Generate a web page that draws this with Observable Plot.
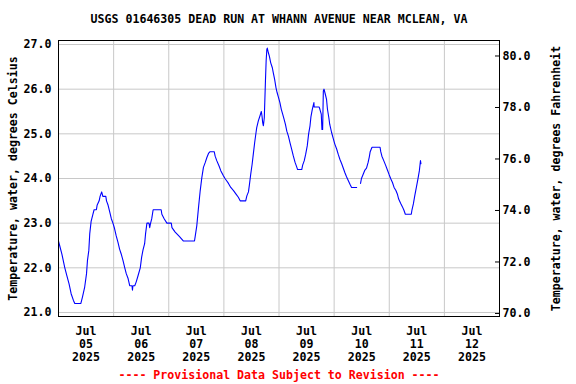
<!DOCTYPE html>
<html>
<head>
<meta charset="utf-8">
<script src="https://cdn.jsdelivr.net/npm/d3@7"></script>
<script src="https://cdn.jsdelivr.net/npm/@observablehq/plot@0.6"></script>
<style>
  html, body { margin: 0; padding: 0; background: #fff; }
</style>
</head>
<body>
<div id="chart"></div>
<script>
const title = "USGS 01646305 DEAD RUN AT WHANN AVENUE NEAR MCLEAN, VA";
const caption = "---- Provisional Data Subject to Revision ----";
const leftLabel = "Temperature, water, degrees Celsius";
const rightLabel = "Temperature, water, degrees Fahrenheit";

// hours since 2025-07-05 00:00
const hours = [
  0.0, 0.5, 1.5, 2.75, 3.6, 4.6, 5.5, 6.5, 7.1, 9.7, 10.4, 11.4, 12.2, 12.6, 13.2, 13.6, 14.2, 15.0, 15.5, 16.5,
  16.8, 17.7, 18.1, 18.8, 19.3, 20.6, 20.9, 21.6, 22.3, 23.0, 23.7, 24.4, 25.1, 25.9, 26.6, 27.3, 28.1, 28.8, 29.5, 30.3,
  31.0, 32.0, 32.2, 32.4, 33.2, 33.8, 34.5, 35.6, 36.2, 36.8, 37.5, 37.9, 38.5, 39.4, 39.7, 40.1, 40.6, 41.2,
  44.7, 45.0, 46.0, 47.2, 49.1, 49.4, 50.8, 52.7, 54.4, 59.2, 59.5, 60.2, 60.9, 61.7, 62.4, 63.1, 63.9, 64.6, 65.3, 66.0,
  67.8, 68.2, 68.9, 69.9, 70.7, 71.8, 72.5, 73.2, 74.0, 75.0, 76.2, 77.3, 78.3, 79.1, 81.5, 82.0, 82.7, 83.1, 83.7, 84.3,
  84.8, 85.4, 86.0, 86.3, 87.0, 87.7, 88.3, 88.6, 88.9, 89.2, 89.6, 90.1, 90.4, 90.7, 90.9, 91.4, 91.8, 92.4, 93.1, 93.5,
  94.1, 94.7, 95.2, 95.8, 96.4, 97.0, 97.6, 98.2, 98.8, 99.4, 100.1, 100.8, 101.5, 102.2, 103.0, 103.7, 104.1, 105.9, 106.3, 107.0,
  107.6, 108.3, 108.9, 109.5, 109.9, 110.5, 111.2, 111.3, 113.5, 113.8, 114.4, 114.7, 115.0, 115.3, 115.6, 116.0, 116.7, 117.1, 117.7, 118.1,
  118.9, 119.6, 120.3, 121.1, 121.8, 122.5, 123.3, 124.0, 124.7, 125.4, 126.2, 126.9, 127.6, 129.8, 130.6, 131.5, 131.9, 132.7, 133.4, 134.1,
  134.8, 135.3, 135.7, 136.5, 140.0, 140.3, 140.8, 141.6, 142.4, 143.2, 144.0, 144.7, 145.4, 146.1, 146.9, 147.6, 148.1, 149.0, 149.7, 150.4,
  151.0, 153.6, 153.9, 154.5, 155.1, 155.8, 156.5, 157.1, 157.6, 157.8
];
const temps = [
  22.6, 22.5, 22.3, 22.0, 21.83, 21.64, 21.42, 21.27, 21.2, 21.2, 21.34, 21.57, 21.87, 22.16, 22.39, 22.76, 23.04, 23.2, 23.3, 23.3,
  23.4, 23.5, 23.6, 23.7, 23.6, 23.6, 23.5, 23.4, 23.25, 23.1, 23.0, 22.88, 22.72, 22.57, 22.42, 22.31, 22.16, 22.01, 21.87, 21.76,
  21.6, 21.6, 21.5, 21.6, 21.6, 21.68, 21.8, 22.0, 22.24, 22.4, 22.54, 22.76, 23.0, 23.0, 22.9, 23.0, 23.1, 23.3,
  23.3, 23.2, 23.1, 23.0, 23.0, 22.9, 22.8, 22.7, 22.6, 22.6, 22.7, 22.94, 23.32, 23.73, 24.02, 24.25, 24.36, 24.47, 24.56, 24.6,
  24.6, 24.5, 24.4, 24.28, 24.17, 24.06, 24.0, 23.95, 23.89, 23.8, 23.73, 23.65, 23.58, 23.5, 23.5, 23.61, 23.7, 23.85, 24.1, 24.32,
  24.54, 24.8, 25.03, 25.14, 25.29, 25.4, 25.5, 25.4, 25.25, 25.18, 25.36, 26.18, 26.63, 26.89, 26.92, 26.81, 26.74, 26.59, 26.48, 26.37,
  26.22, 26.03, 25.92, 25.81, 25.7, 25.55, 25.44, 25.33, 25.21, 25.06, 24.95, 24.8, 24.66, 24.51, 24.36, 24.26, 24.2, 24.2, 24.3, 24.4,
  24.54, 24.73, 25.0, 25.18, 25.38, 25.55, 25.7, 25.6, 25.6, 25.55, 25.44, 25.1, 25.1, 25.96, 26.0, 25.92, 25.77, 25.55, 25.36, 25.21,
  25.03, 24.9, 24.77, 24.66, 24.54, 24.43, 24.33, 24.23, 24.13, 24.04, 23.95, 23.87, 23.8, 23.8, null, 23.89, 24.0, 24.1, 24.19, 24.23,
  24.36, 24.48, 24.6, 24.7, 24.7, 24.6, 24.5, 24.4, 24.3, 24.19, 24.08, 23.99, 23.91, 23.8, 23.73, 23.64, 23.54, 23.44, 23.37, 23.29,
  23.2, 23.2, 23.3, 23.43, 23.61, 23.8, 23.99, 24.17, 24.4, 24.33
];

const celsiusTicks = [21, 22, 23, 24, 25, 26, 27];
const fahrenheitTicks = [70, 72, 74, 76, 78, 80];
const dayLabels = ["05", "06", "07", "08", "09", "10", "11", "12"];

const t0 = Date.UTC(2025, 6, 5);
const HOUR = 3600e3, DAY = 864e5;
const data = hours.map((h, i) => ({date: new Date(t0 + h * HOUR), temp: temps[i]}));
const midnights = d3.range(0, 9).map(d => new Date(t0 + d * DAY));
const noons = dayLabels.map((_, i) => new Date(t0 + i * DAY + 12 * HOUR));

// right-axis calibration (°F tick positions expressed on the °C scale)
const f2c = d3.scaleLinear().domain([70, 80]).range([20.978, 26.743]);
const fPos = fahrenheitTicks.map(f2c);

const W = 576, H = 384, mL = 58, mR = 77, mT = 40, mB = 68;
const font = "DejaVu Sans Mono";

const chart = Plot.plot({
  width: W, height: H,
  marginTop: mT, marginBottom: mB, marginLeft: mL, marginRight: mR,
  style: {fontFamily: font, fontSize: "11.6px", fontWeight: "bold", background: "white", color: "black"},
  x: {type: "utc", domain: [new Date(t0), new Date(t0 + 8 * DAY)]},
  y: {domain: [20.91, 27.09]},
  marks: [
    Plot.ruleY(celsiusTicks, {stroke: "#c8c8c8", strokeWidth: 1}),
    Plot.ruleX(midnights, {stroke: "#c8c8c8", strokeWidth: 1}),
    Plot.line(data, {x: "date", y: "temp", stroke: "#0000ff", strokeWidth: 1.1, curve: "linear"}),
    Plot.frame({stroke: "black", strokeWidth: 1}),
    Plot.tickY(fPos, {stroke: "black", insetLeft: W - mL - mR - 4}),
    Plot.axisY(celsiusTicks, {anchor: "left", tickSize: 0, tickPadding: 7, tickFormat: d => d.toFixed(1), label: null, fontSize: 11.6}),
    Plot.axisY(fPos, {anchor: "right", tickSize: 0, tickPadding: 3, tickFormat: (d, i) => fahrenheitTicks[i].toFixed(1), label: null, fontSize: 11.6}),
    Plot.axisX(noons, {anchor: "bottom", tickSize: 0, tickPadding: 9, lineHeight: 1.12, label: null, fontSize: 11.6,
      tickFormat: (d, i) => "Jul\n" + dayLabels[i] + "\n2025"}),
    Plot.text([title], {frameAnchor: "top", lineAnchor: "middle", dy: -21, fontSize: 11.6, fontWeight: "bold", fill: "black"}),
    Plot.text([caption], {frameAnchor: "bottom", lineAnchor: "middle", dy: 59, fontSize: 11.6, fontWeight: "bold", fill: "#ff0000"}),
    Plot.text([leftLabel], {frameAnchor: "left", textAnchor: "middle", lineAnchor: "middle", rotate: -90, dx: -45, fontSize: 11.6, fontWeight: "bold", fill: "black"}),
    Plot.text([rightLabel], {frameAnchor: "right", textAnchor: "middle", lineAnchor: "middle", rotate: -90, dx: 57, fontSize: 11.6, fontWeight: "bold", fill: "black"})
  ]
});
document.getElementById("chart").append(chart);
</script>
</body>
</html>
